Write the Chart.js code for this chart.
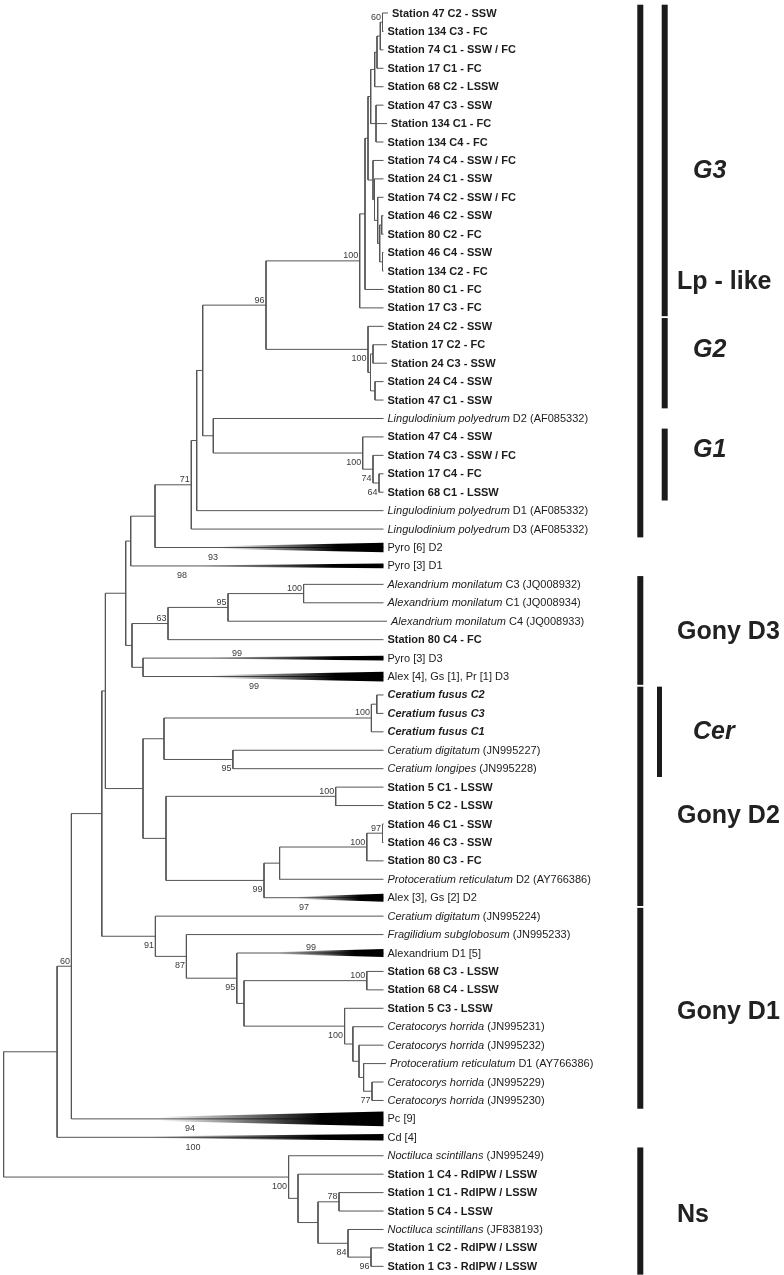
<!DOCTYPE html>
<html>
<head>
<meta charset="utf-8">
<script src="https://cdn.jsdelivr.net/npm/chart.js@4.4.1/dist/chart.umd.min.js"></script>
<style>
  html, body { margin: 0; padding: 0; background: #fff; }
  #wrap { position: relative; width: 784px; height: 1275px; }
</style>
</head>
<body>
<div id="wrap"><canvas id="tree"></canvas></div>
<script>
// taxa, top to bottom  (*...* = bold, _..._ = italic)
const taxa = [
  '*Station 47 C2 - SSW*', '*Station 134 C3 - FC*', '*Station 74 C1 - SSW / FC*', '*Station 17 C1 - FC*',
  '*Station 68 C2 - LSSW*', '*Station 47 C3 - SSW*', '*Station 134 C1 - FC*', '*Station 134 C4 - FC*',
  '*Station 74 C4 - SSW / FC*', '*Station 24 C1 - SSW*', '*Station 74 C2 - SSW / FC*', '*Station 46 C2 - SSW*',
  '*Station 80 C2 - FC*', '*Station 46 C4 - SSW*', '*Station 134 C2 - FC*', '*Station 80 C1 - FC*',
  '*Station 17 C3 - FC*', '*Station 24 C2 - SSW*', '*Station 17 C2 - FC*', '*Station 24 C3 - SSW*',
  '*Station 24 C4 - SSW*', '*Station 47 C1 - SSW*', '_Lingulodinium polyedrum_ D2 (AF085332)',
  '*Station 47 C4 - SSW*', '*Station 74 C3 - SSW / FC*', '*Station 17 C4 - FC*', '*Station 68 C1 - LSSW*',
  '_Lingulodinium polyedrum_ D1 (AF085332)', '_Lingulodinium polyedrum_ D3 (AF085332)',
  'Pyro [6] D2', 'Pyro [3] D1',
  '_Alexandrium monilatum_ C3 (JQ008932)', '_Alexandrium monilatum_ C1 (JQ008934)',
  '_Alexandrium monilatum_ C4 (JQ008933)', '*Station 80 C4 - FC*',
  'Pyro [3] D3', 'Alex [4], Gs [1], Pr [1] D3',
  '*_Ceratium fusus C2_*', '*_Ceratium fusus C3_*', '*_Ceratium fusus C1_*',
  '_Ceratium digitatum_ (JN995227)', '_Ceratium longipes_ (JN995228)',
  '*Station 5 C1 - LSSW*', '*Station 5 C2 - LSSW*', '*Station 46 C1 - SSW*', '*Station 46 C3 - SSW*',
  '*Station 80 C3 - FC*', '_Protoceratium reticulatum_ D2 (AY766386)', 'Alex [3], Gs [2] D2',
  '_Ceratium digitatum_ (JN995224)', '_Fragilidium subglobosum_ (JN995233)', 'Alexandrium D1 [5]',
  '*Station 68 C3 - LSSW*', '*Station 68 C4 - LSSW*', '*Station 5 C3 - LSSW*',
  '_Ceratocorys horrida_ (JN995231)', '_Ceratocorys horrida_ (JN995232)',
  '_Protoceratium reticulatum_ D1 (AY766386)', '_Ceratocorys horrida_ (JN995229)',
  '_Ceratocorys horrida_ (JN995230)', 'Pc [9]', 'Cd [4]',
  '_Noctiluca scintillans_ (JN995249)', '*Station 1 C4 - RdIPW / LSSW*', '*Station 1 C1 - RdIPW / LSSW*',
  '*Station 5 C4 - LSSW*', '_Noctiluca scintillans_ (JF838193)', '*Station 1 C2 - RdIPW / LSSW*',
  '*Station 1 C3 - RdIPW / LSSW*'
];

// depth of the tips (most end on the same line, a few stick out)
const TIP = 383.5;
const tipDepth = { 0: 388, 6: 387, 18: 387, 19: 387, 33: 387, 57: 386 };

// collapsed subtrees: leaf index -> number of sequences inside
const collapsed = { 29: 6, 30: 3, 35: 3, 36: 6, 48: 5, 51: 5, 60: 9, 61: 4 };

// internal nodes: id, depth, children (leaf index or node id)
const nodes = [
  ['a1', 382.5, [0, 1]],
  ['a2', 380.3, ['a1', 2]],
  ['a3', 377, ['a2', 3]],
  ['a4', 374.7, ['a3', 4]],
  ['a5', 376, [5, 6, 7]],
  ['a6', 370.7, ['a4', 'a5']],
  ['b1', 382.5, [13, 14]],
  ['b2', 381.7, [11, 12]],
  ['b3', 379.7, ['b2', 'b1']],
  ['b4', 377.7, [10, 'b3']],
  ['b5', 374.5, [9, 'b4']],
  ['b6', 373, [8, 'b5']],
  ['c1', 368, ['a6', 'b6']],
  ['c2', 365, ['c1', 15]],
  ['G3', 359.7, ['c2', 16]],
  ['d1', 373, [18, 19]],
  ['d2', 375, [20, 21]],
  ['d3', 370.5, ['d1', 'd2']],
  ['G2', 368, [17, 'd3']],
  ['n96', 266, ['G3', 'G2']],
  ['e1', 379, [25, 26]],
  ['e2', 373, [24, 'e1']],
  ['G1', 362.7, [23, 'e2']],
  ['n213', 213.3, [22, 'G1']],
  ['n202', 202.7, ['n96', 'n213']],
  ['n196', 196.7, ['n202', 27]],
  ['n71', 191.3, ['n196', 28]],
  ['n155', 155, ['n71', 29]],
  ['n130', 130.7, ['n155', 30]],
  ['f1', 303.6, [31, 32]],
  ['f2', 228, ['f1', 33]],
  ['f3', 168, ['f2', 34]],
  ['f4', 143, [35, 36]],
  ['f5', 132, ['f3', 'f4']],
  ['n125', 125.7, ['n130', 'f5']],
  ['g1', 376.8, [37, 38]],
  ['g2', 371.4, ['g1', 39]],
  ['g3', 232.9, [40, 41]],
  ['g4', 164, ['g2', 'g3']],
  ['g5', 335.7, [42, 43]],
  ['g6', 382.5, [44, 45]],
  ['g7', 366.8, ['g6', 46]],
  ['g8', 279.6, ['g7', 47]],
  ['g9', 264, ['g8', 48]],
  ['g10', 166, ['g5', 'g9']],
  ['g11', 143, ['g4', 'g10']],
  ['n105', 105.4, ['n125', 'g11']],
  ['h1', 366.8, [52, 53]],
  ['h2', 372, [58, 59]],
  ['h3', 363.6, [57, 'h2']],
  ['h4', 359, [56, 'h3']],
  ['h5', 352.9, [55, 'h4']],
  ['h6', 344.6, [54, 'h5']],
  ['h7', 244, ['h1', 'h6']],
  ['h8', 236.8, [51, 'h7']],
  ['h9', 186.4, [50, 'h8']],
  ['h10', 155.4, [49, 'h9']],
  ['n101', 101.8, ['n105', 'h10']],
  ['n71b', 71.4, ['n101', 60]],
  ['n60', 57.1, ['n71b', 61]],
  ['i1', 371, [67, 68]],
  ['i2', 348, [66, 'i1']],
  ['i3', 339, [64, 65]],
  ['i4', 318, ['i3', 'i2']],
  ['i5', 298, [63, 'i4']],
  ['i6', 288.6, [62, 'i5']],
  ['root', 3.6, ['n60', 'i6']]
];

// bootstrap support: node, value, a = above / b = below its branch
const support = [
  ['a1', 60, 'a'], ['G3', 100, 'a'], ['G2', 100, 'b'], ['n96', 96, 'a'],
  ['G1', 100, 'b'], ['e2', 74, 'b'], ['e1', 64, 'b'], ['n71', 71, 'a'],
  ['f1', 100, 'a'], ['f2', 95, 'a'], ['f3', 63, 'a'],
  ['g2', 100, 'a'], ['g3', 95, 'b'], ['g5', 100, 'a'], ['g6', 97, 'a'], ['g7', 100, 'a'], ['g9', 99, 'b'],
  ['h10', 91, 'b'], ['h9', 87, 'b'], ['h8', 95, 'b'], ['h1', 100, 'a'], ['h6', 100, 'b'], ['h2', 77, 'b'],
  ['n71b', 60, 'a'],
  ['i6', 100, 'b'], ['i3', 78, 'a'], ['i2', 84, 'b'], ['i1', 96, 'b']
];

// support of the collapsed clades: leaf, value, depth where printed, above/below
const collapsedSupport = [
  [29, 93, 213, 'b'], [30, 98, 182, 'b'], [35, 99, 237, 'a'], [36, 99, 254, 'b'],
  [48, 97, 304, 'b'], [51, 99, 311, 'a'], [60, 94, 190, 'b'], [61, 100, 193, 'b']
];

// clade bars on the right: label, first leaf, last leaf, column, italic, label row
const groups = [
  ['Lp - like', 0, 28, 'outer', false, 14.6],
  ['G3', 0, 16, 'inner', true, 8.6],
  ['G2', 17, 21, 'inner', true, 18.3],
  ['G1', 23, 26, 'inner', true, 23.7],
  ['Gony D3', 31, 36, 'outer', false, 33.6],
  ['Cer', 37, 41, 'cer', true, 39],
  ['Gony D2', 37, 48, 'outer', false, 43.6],
  ['Gony D1', 49, 59, 'outer', false, 54.2],
  ['Ns', 62, 68, 'outer', false, 65.2]
];

const FONT = '"Liberation Sans", Arial, Helvetica, sans-serif';
const LINE = '#555';
const barX = { outer: 640.3, inner: 664.7, cer: 659.5 };
const barW = { outer: 6, inner: 6, cer: 5 };

const nodeById = {};
nodes.forEach(n => { nodeById[n[0]] = n; });
const parentOf = {};
nodes.forEach(n => n[2].forEach(c => { parentOf[c] = n[0]; }));

function depthOf(c) {
  if (typeof c === 'number') return tipDepth[c] !== undefined ? tipDepth[c] : TIP;
  return nodeById[c][1];
}
const rowCache = {};
function rowOf(c) {
  if (typeof c === 'number') return c;
  if (rowCache[c] !== undefined) return rowCache[c];
  const k = nodeById[c][2];
  rowCache[c] = (rowOf(k[0]) + rowOf(k[k.length - 1])) / 2;
  return rowCache[c];
}

// one bracket per node, extra lines for middle children
const datasets = [];
nodes.forEach(n => {
  const d = n[1], kids = n[2];
  const first = kids[0], last = kids[kids.length - 1];
  datasets.push({
    data: [
      { x: depthOf(first), y: rowOf(first) },
      { x: d, y: rowOf(first) },
      { x: d, y: rowOf(last) },
      { x: depthOf(last), y: rowOf(last) }
    ]
  });
  kids.slice(1, -1).forEach(c => {
    datasets.push({ data: [{ x: d, y: rowOf(c) }, { x: depthOf(c), y: rowOf(c) }] });
  });
});
datasets.forEach(ds => {
  ds.showLine = true;
  ds.borderColor = LINE;
  ds.borderWidth = 1;
  ds.pointRadius = 0;
  ds.fill = false;
});

function drawRich(ctx, str, px, py) {
  let bold = false, italic = false, buf = '', cx = px;
  const flush = () => {
    if (!buf) return;
    ctx.font = (italic ? 'italic ' : '') + (bold ? 'bold ' : '') + '11px ' + FONT;
    ctx.fillText(buf, cx, py);
    cx += ctx.measureText(buf).width;
    buf = '';
  };
  for (const ch of str) {
    if (ch === '*') { flush(); bold = !bold; }
    else if (ch === '_') { flush(); italic = !italic; }
    else buf += ch;
  }
  flush();
}

const treeText = {
  id: 'treeText',
  afterDatasetsDraw(chart) {
    const { ctx } = chart;
    const x = chart.scales.x, y = chart.scales.y;
    ctx.save();

    // collapsed clades as shaded wedges
    Object.keys(collapsed).forEach(k => {
      const leaf = +k;
      const ax = x.getPixelForValue(nodeById[parentOf[leaf]][1]);
      const tx = x.getPixelForValue(depthOf(leaf));
      const half = collapsed[leaf] * 0.044;
      const ay = y.getPixelForValue(leaf);
      const g = ctx.createLinearGradient(ax, 0, tx, 0);
      g.addColorStop(0, 'rgba(0,0,0,0)');
      g.addColorStop(0.28, 'rgba(0,0,0,0)');
      g.addColorStop(0.8, 'rgba(0,0,0,1)');
      g.addColorStop(1, 'rgba(0,0,0,1)');
      ctx.fillStyle = g;
      ctx.beginPath();
      ctx.moveTo(ax, ay);
      ctx.lineTo(tx, y.getPixelForValue(leaf - half));
      ctx.lineTo(tx, y.getPixelForValue(leaf + half));
      ctx.closePath();
      ctx.fill();
    });

    // taxon labels
    ctx.fillStyle = '#1c1c1c';
    ctx.textBaseline = 'middle';
    ctx.textAlign = 'left';
    taxa.forEach((t, i) => {
      drawRich(ctx, t, x.getPixelForValue(depthOf(i)) + 4, y.getPixelForValue(i) + 0.5);
    });

    // support values
    ctx.font = '9px ' + FONT;
    ctx.fillStyle = '#3a3a3a';
    ctx.textAlign = 'right';
    support.forEach(s => {
      const px = x.getPixelForValue(nodeById[s[0]][1]) - 1.5;
      const py = y.getPixelForValue(rowOf(s[0])) + (s[2] === 'a' ? -5 : 9.5);
      ctx.fillText(String(s[1]), px, py);
    });
    ctx.textAlign = 'center';
    collapsedSupport.forEach(s => {
      const py = y.getPixelForValue(s[0]) + (s[3] === 'a' ? -5 : 10);
      ctx.fillText(String(s[1]), x.getPixelForValue(s[2]), py);
    });

    // clade bars and names
    groups.forEach(gr => {
      const col = gr[3];
      const top = y.getPixelForValue(gr[1] - 0.45);
      const bot = y.getPixelForValue(gr[2] + 0.45);
      ctx.fillStyle = '#1a1a1a';
      ctx.fillRect(barX[col] - barW[col] / 2, top, barW[col], bot - top);
      ctx.font = (gr[4] ? 'italic ' : '') + 'bold 25px ' + FONT;
      ctx.fillStyle = '#222';
      ctx.textAlign = 'left';
      ctx.fillText(gr[0], gr[4] ? 693 : 677, y.getPixelForValue(gr[5]));
    });

    ctx.restore();
  }
};

new Chart(document.getElementById('tree'), {
  type: 'scatter',
  data: { datasets: datasets },
  options: {
    responsive: true,
    maintainAspectRatio: false,
    animation: false,
    events: [],
    layout: { padding: 0 },
    plugins: { legend: { display: false }, tooltip: { enabled: false } },
    scales: {
      x: { type: 'linear', min: 0, max: 784, display: false },
      y: { type: 'linear', min: -0.705, max: 68.47, reverse: true, display: false }
    }
  },
  plugins: [treeText]
});
</script>
</body>
</html>
